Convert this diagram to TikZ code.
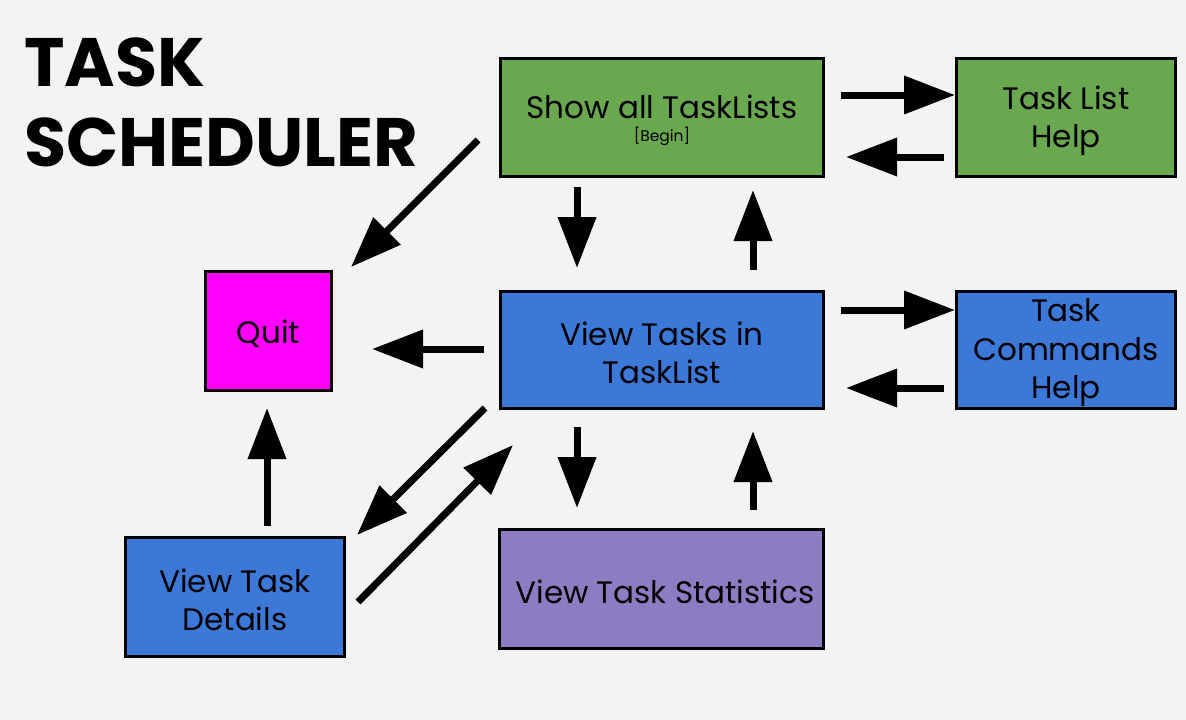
\documentclass[tikz,border=0pt]{standalone}
\usepackage{fontspec}
\setmainfont{Poppins}
\usetikzlibrary{arrows.meta}
\definecolor{bg}{HTML}{F3F3F3}
\definecolor{boxgreen}{HTML}{6AA84F}
\definecolor{boxblue}{HTML}{3C78D8}
\definecolor{boxpurple}{HTML}{8E7CC3}
\definecolor{boxmagenta}{HTML}{FF00FF}
\newcommand\dn[2][3pt]{\raisebox{-#1}[\height][\depth]{#2}}
\tikzset{
  box/.style={draw=black, line width=3pt, inner sep=0pt, align=center,
    font=\fontsize{31}{38.5}\selectfont},
  flow/.style={line width=7pt, -{Triangle[width=37pt,length=51pt]}},
}
\begin{document}
\begin{tikzpicture}[x=1pt,y=-1pt]
\useasboundingbox[fill=bg] (0,0) rectangle (1186,720);
% title
\node[anchor=base west, inner sep=0pt, align=left, font=\fontsize{68.5}{80}\selectfont\bfseries] (title) at (24,166) {TASK\\SCHEDULER};
% boxes
\node[box, fill=boxgreen, minimum width=323pt, minimum height=118pt] (show) at (662,117.5)
  {\dn{Show all TaskLists}\\[-16pt]{\fontsize{15.5}{17}\selectfont \dn{[Begin]}}};
\node[box, fill=boxgreen, minimum width=219pt, minimum height=118pt] (tlh) at (1066,117.5) {\dn{Task List}\\\dn{Help}};
\node[box, fill=boxblue, minimum width=323pt, minimum height=117pt] (vt) at (662,350) {\dn{View Tasks in}\\\dn{TaskList}};
\node[box, fill=boxblue, minimum width=219pt, minimum height=117pt] (tch) at (1066,350) {\dn{Task}\\\dn{Commands}\\\dn{Help}};
\node[box, fill=boxmagenta, minimum width=126pt, minimum height=119pt] (quit) at (268.5,331) {\dn{Quit}};
\node[box, fill=boxblue, minimum width=219pt, minimum height=119pt] (det) at (235,597) {\dn{View Task}\\\dn{Details}};
\node[box, fill=boxpurple, minimum width=324pt, minimum height=119pt] (stats) at (661.5,589) {\hspace*{7pt}\dn{View Task Statistics}};
% arrow end points
\coordinate (s2hA) at (841,95);  \coordinate (s2hB) at (955,95);
\coordinate (h2sA) at (944,157); \coordinate (h2sB) at (846,157);
\coordinate (s2vA) at (577,187); \coordinate (s2vB) at (577,268);
\coordinate (v2sA) at (753,270); \coordinate (v2sB) at (753,190);
\coordinate (s2qA) at (478,140); \coordinate (s2qB) at (351,267);
\coordinate (v2qA) at (484,349); \coordinate (v2qB) at (372,349);
\coordinate (v2tA) at (841,310); \coordinate (v2tB) at (955,310);
\coordinate (t2vA) at (944,388); \coordinate (t2vB) at (846,388);
\coordinate (v2stA) at (577,427); \coordinate (v2stB) at (577,508);
\coordinate (st2vA) at (753,510); \coordinate (st2vB) at (753,431);
\coordinate (v2dA) at (485,408); \coordinate (v2dB) at (357,535);
\coordinate (d2vA) at (358,602); \coordinate (d2vB) at (513,445);
\coordinate (d2qA) at (267,526); \coordinate (d2qB) at (267,408);
% arrows
\draw[flow] (s2hA) -- (s2hB);
\draw[flow] (h2sA) -- (h2sB);
\draw[flow] (s2vA) -- (s2vB);
\draw[flow] (v2sA) -- (v2sB);
\draw[flow] (s2qA) -- (s2qB);
\draw[flow] (v2qA) -- (v2qB);
\draw[flow] (v2tA) -- (v2tB);
\draw[flow] (t2vA) -- (t2vB);
\draw[flow] (v2stA) -- (v2stB);
\draw[flow] (st2vA) -- (st2vB);
\draw[flow] (v2dA) -- (v2dB);
\draw[flow] (d2vA) -- (d2vB);
\draw[flow] (d2qA) -- (d2qB);
\end{tikzpicture}
\end{document}
